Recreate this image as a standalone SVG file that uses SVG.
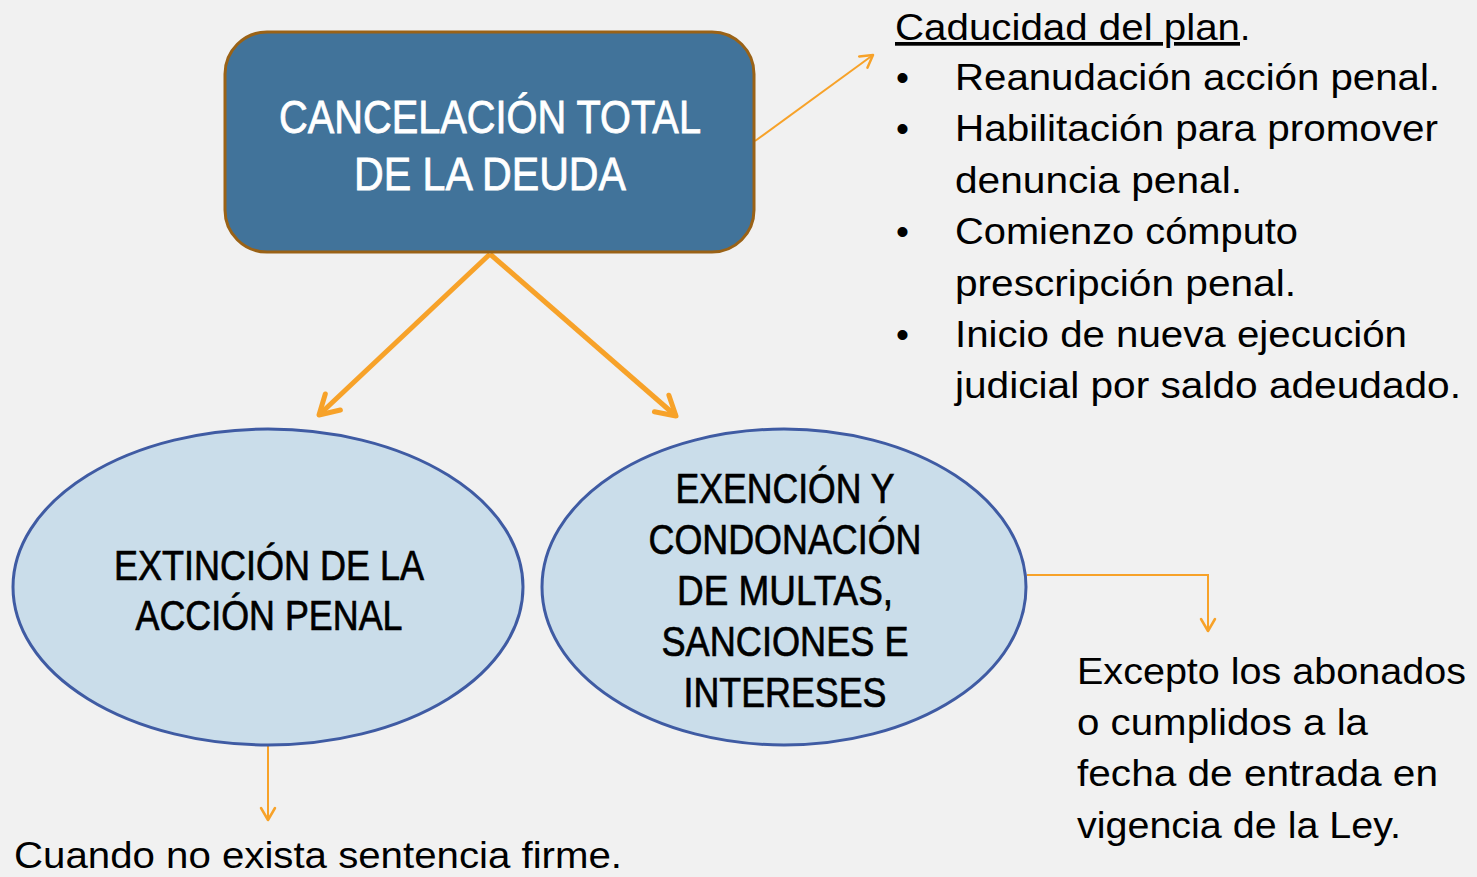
<svg xmlns="http://www.w3.org/2000/svg" width="1477" height="877" viewBox="0 0 1477 877">
<defs>
<style>
.t{font-family:"Liberation Sans",Arial,sans-serif;}
.w{fill:#ffffff;stroke:#ffffff;stroke-width:0.8;font-size:47px;}
.n{fill:#000000;stroke:#000000;stroke-width:0.7;font-size:42px;}
.b{fill:#000000;font-size:37px;}
.thick{stroke:#F7A229;stroke-width:5;fill:none;}
.thin{stroke:#F7A229;stroke-width:2;fill:none;}
.ell{fill:#CADDEA;stroke:#3F5BA3;stroke-width:3;}
</style>
<marker id="ah" markerUnits="userSpaceOnUse" viewBox="-25 -15 30 30" markerWidth="30" markerHeight="30" refX="0" refY="0" orient="auto">
<path d="M-19,-11 L0,0 L-19,11" stroke="#F7A229" stroke-width="5" fill="none" stroke-linecap="round" stroke-linejoin="round"/>
</marker>
<marker id="as" markerUnits="userSpaceOnUse" viewBox="-16 -10 20 20" markerWidth="20" markerHeight="20" refX="0" refY="0" orient="auto">
<path d="M-12,-7 L0,0 L-12,7" stroke="#F7A229" stroke-width="2.5" fill="none" stroke-linecap="round" stroke-linejoin="round"/>
</marker>
</defs>
<rect width="1477" height="877" fill="#F1F1F1"/>
<g id="connectors">
<line class="thick" x1="490" y1="254" x2="319" y2="415" marker-end="url(#ah)"/>
<line class="thick" x1="490" y1="254" x2="676" y2="416" marker-end="url(#ah)"/>
<line class="thin" x1="755" y1="141" x2="873" y2="55" marker-end="url(#as)"/>
<polyline class="thin" points="1027,575 1208,575 1208,631" marker-end="url(#as)"/>
<line class="thin" x1="268" y1="746" x2="268" y2="820" marker-end="url(#as)"/>
</g>
<g id="node-cancelacion">
<rect x="225" y="32" width="529" height="220" rx="42" ry="42" fill="#41739A" stroke="#9A6216" stroke-width="3"/>
<text class="t w" x="490" y="133" text-anchor="middle" textLength="422" lengthAdjust="spacingAndGlyphs">CANCELACIÓN TOTAL</text>
<text class="t w" x="490" y="190" text-anchor="middle" textLength="272" lengthAdjust="spacingAndGlyphs">DE LA DEUDA</text>
</g>
<g id="node-extincion">
<ellipse class="ell" cx="268" cy="587" rx="255" ry="158"/>
<text class="t n" x="269" y="580" text-anchor="middle" textLength="310" lengthAdjust="spacingAndGlyphs">EXTINCIÓN DE LA</text>
<text class="t n" x="269" y="630" text-anchor="middle" textLength="267" lengthAdjust="spacingAndGlyphs">ACCIÓN PENAL</text>
</g>
<g id="node-exencion">
<ellipse class="ell" cx="784" cy="587" rx="242" ry="158"/>
<text class="t n" x="785" y="503" text-anchor="middle" textLength="219" lengthAdjust="spacingAndGlyphs">EXENCIÓN Y</text>
<text class="t n" x="785" y="554" text-anchor="middle" textLength="273" lengthAdjust="spacingAndGlyphs">CONDONACIÓN</text>
<text class="t n" x="785" y="605" text-anchor="middle" textLength="216" lengthAdjust="spacingAndGlyphs">DE MULTAS,</text>
<text class="t n" x="785" y="656" text-anchor="middle" textLength="247" lengthAdjust="spacingAndGlyphs">SANCIONES E</text>
<text class="t n" x="785" y="707" text-anchor="middle" textLength="203" lengthAdjust="spacingAndGlyphs">INTERESES</text>
</g>
<g id="node-caducidad">
<text class="t b" x="895" y="40" textLength="345" lengthAdjust="spacingAndGlyphs" text-decoration="underline">Caducidad del plan</text>
<text class="t b" x="1240" y="40">.</text>
<text class="t b" x="896" y="90">•</text>
<text class="t b" x="955" y="90" textLength="485" lengthAdjust="spacingAndGlyphs">Reanudación acción penal.</text>
<text class="t b" x="896" y="141">•</text>
<text class="t b" x="955" y="141" textLength="483" lengthAdjust="spacingAndGlyphs">Habilitación para promover</text>
<text class="t b" x="955" y="193" textLength="287" lengthAdjust="spacingAndGlyphs">denuncia penal.</text>
<text class="t b" x="896" y="244">•</text>
<text class="t b" x="955" y="244" textLength="343" lengthAdjust="spacingAndGlyphs">Comienzo cómputo</text>
<text class="t b" x="955" y="296" textLength="341" lengthAdjust="spacingAndGlyphs">prescripción penal.</text>
<text class="t b" x="896" y="347">•</text>
<text class="t b" x="955" y="347" textLength="452" lengthAdjust="spacingAndGlyphs">Inicio de nueva ejecución</text>
<text class="t b" x="955" y="398" textLength="506" lengthAdjust="spacingAndGlyphs">judicial por saldo adeudado.</text>
</g>
<g id="node-excepto">
<text class="t b" x="1077" y="684" textLength="389" lengthAdjust="spacingAndGlyphs">Excepto los abonados</text>
<text class="t b" x="1077" y="735" textLength="291" lengthAdjust="spacingAndGlyphs">o cumplidos a la</text>
<text class="t b" x="1077" y="786" textLength="361" lengthAdjust="spacingAndGlyphs">fecha de entrada en</text>
<text class="t b" x="1077" y="838" textLength="324" lengthAdjust="spacingAndGlyphs">vigencia de la Ley.</text>
</g>
<g id="node-cuando">
<text class="t b" x="14" y="868" textLength="608" lengthAdjust="spacingAndGlyphs">Cuando no exista sentencia firme.</text>
</g>
</svg>
